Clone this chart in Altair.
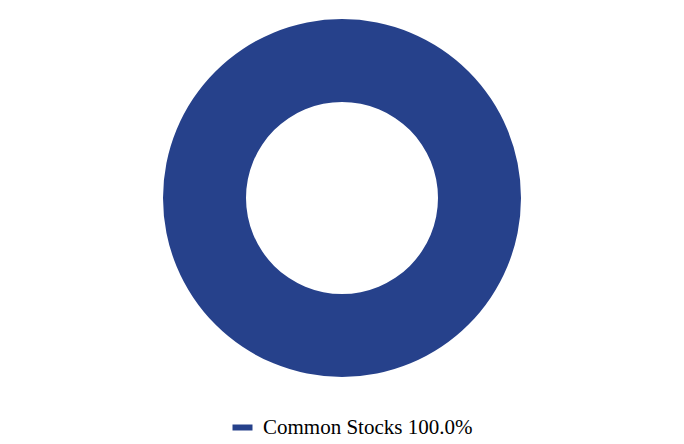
import altair as alt
import pandas as pd

categories = ["Common Stocks 100.0%"]
values = [100.0]
colors = ["#26418B"]

df = pd.DataFrame({"category": categories, "value": values})

chart = alt.Chart(df).mark_arc(outerRadius=179, innerRadius=96).encode(
    theta=alt.Theta("value:Q", stack=True),
    color=alt.Color(
        "category:N",
        scale=alt.Scale(domain=categories, range=colors),
        legend=alt.Legend(
            title=None,
            orient="none",
            legendX=224,
            legendY=409,
            direction="horizontal",
            labelFont="Liberation Serif",
            labelFontSize=21,
            labelColor="#000000",
            labelLimit=0,
            symbolType="M-1,-0.3H1V0.3H-1Z",
            symbolSize=400,
            symbolStrokeWidth=0,
            symbolOpacity=1,
            labelOffset=10,
        ),
    ),
).properties(width=668, height=380, padding=0).configure_view(stroke=None).configure(background="white")

chart.save("out.html", embed_options={"renderer": "svg", "actions": False})
